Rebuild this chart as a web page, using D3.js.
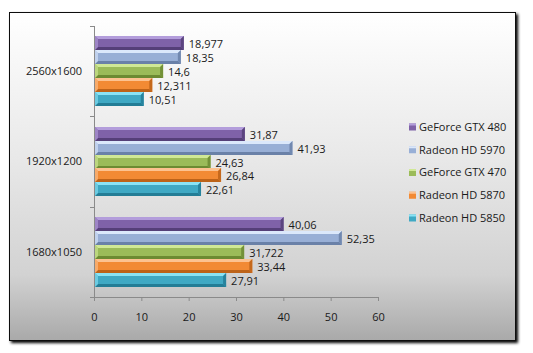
<!DOCTYPE html>
<html>
<head>
<meta charset="utf-8">
<script src="https://cdn.jsdelivr.net/npm/d3@7"></script>
<style>
  html, body { margin: 0; padding: 0; background: #ffffff; }
  svg { display: block; }
  text { font-family: "Open Sans", "DejaVu Sans", sans-serif; font-size: 11px; fill: #1a1a1a; }
</style>
</head>
<body>
<div id="chart"></div>
<script>
// categories, top to bottom
let resolutions = ['2560x1600', '1920x1200', '1680x1050'];
// series, top to bottom inside each group
let cards = ['GeForce GTX 480', 'Radeon HD 5970', 'GeForce GTX 470', 'Radeon HD 5870', 'Radeon HD 5850'];
let gtx480 = [18.977, 31.87, 40.06];
let hd5970 = [18.35, 41.93, 52.35];
let gtx470 = [14.6, 24.63, 31.722];
let hd5870 = [12.311, 26.84, 33.44];
let hd5850 = [10.51, 22.61, 27.91];
let xTicks = [0, 10, 20, 30, 40, 50, 60];

let seriesValues = [gtx480, hd5970, gtx470, hd5870, hd5850];
// base / light / dark per series
let palette = [
    {base: '#7f62a8', light: '#b39ddb', dark: '#553f78'},
    {base: '#98afd6', light: '#dbe8fb', dark: '#6a81a8'},
    {base: '#9bbb59', light: '#d0e896', dark: '#6c8a32'},
    {base: '#f28a34', light: '#fcc290', dark: '#bd6319'},
    {base: '#3fa9c4', light: '#8ae3f5', dark: '#237d96'}
];

let W = 533, H = 353;
let svg = d3.select('#chart').append('svg').attr('width', W).attr('height', H);
let defs = svg.append('defs');

//背景渐变
let bg = defs.append('linearGradient').attr('id', 'bg').attr('x1', 0).attr('y1', 0).attr('x2', 0).attr('y2', 1);
bg.append('stop').attr('offset', '0%').attr('stop-color', '#ffffff');
bg.append('stop').attr('offset', '45%').attr('stop-color', '#e8e8e8');
bg.append('stop').attr('offset', '80%').attr('stop-color', '#d2d2d2');
bg.append('stop').attr('offset', '100%').attr('stop-color', '#a9a9a9');

let sh = defs.append('filter').attr('id', 'shadow').attr('x', '-5%').attr('y', '-5%').attr('width', '115%').attr('height', '115%');
sh.append('feGaussianBlur').attr('in', 'SourceAlpha').attr('stdDeviation', 1.5);
sh.append('feOffset').attr('dx', 2).attr('dy', 2).attr('result', 'b');
let mg = sh.append('feMerge');
mg.append('feMergeNode').attr('in', 'b');
mg.append('feMergeNode').attr('in', 'SourceGraphic');

//外框
svg.append('rect')
    .attr('x', 9.5).attr('y', 12.5).attr('width', 506).attr('height', 328)
    .attr('fill', 'url(#bg)').attr('stroke', '#111').attr('stroke-width', 1)
    .attr('filter', 'url(#shadow)');

let pLeft = 94, pRight = 378, pTop = 26, pBottom = 297;

let x = d3.scaleLinear().domain([0, 60]).range([pLeft, pRight]);
let y0 = d3.scaleBand().domain(resolutions).range([pTop, pBottom]).paddingInner(0).paddingOuter(0);
let y1 = d3.scaleBand().domain(cards).range([0, y0.bandwidth()]).paddingOuter(0.74).paddingInner(0);

let g = svg.append('g');

//x轴
let xAxis = d3.axisBottom(x).tickValues(xTicks).tickSize(4).tickPadding(12).tickFormat(d3.format('d'));
let gx = g.append('g').attr('transform', 'translate(0,' + pBottom + ')').call(xAxis);
gx.select('.domain').attr('stroke', '#8a8a8a');
gx.selectAll('.tick line').attr('stroke', '#8a8a8a');
gx.selectAll('.tick text').style('font-size', '11px').attr('fill', '#1a1a1a');

//y轴
let gy = g.append('g');
gy.append('line').attr('x1', pLeft + 0.5).attr('x2', pLeft + 0.5).attr('y1', pTop).attr('y2', pBottom).attr('stroke', '#8a8a8a');
[pTop, pTop + y0.bandwidth(), pTop + 2 * y0.bandwidth(), pBottom].forEach(function (t) {
    gy.append('line').attr('x1', pLeft - 4).attr('x2', pLeft).attr('y1', Math.round(t) + 0.5).attr('y2', Math.round(t) + 0.5).attr('stroke', '#8a8a8a');
});
resolutions.forEach(function (r) {
    gy.append('text')
        .attr('x', 82).attr('y', y0(r) + y0.bandwidth() / 2)
        .attr('text-anchor', 'end').attr('dy', '0.35em')
        .text(r);
});

//画条形（带斜面效果）
let b = 3;
let fmt = function (v) { return String(v).replace('.', ','); };
resolutions.forEach(function (r, ri) {
    cards.forEach(function (c, si) {
        let v = seriesValues[si][ri];
        let col = palette[si];
        let x0 = x(0) + 1, x1 = x(v);
        let yt = Math.round(y0(r) + y1(c)), h = Math.round(y1.bandwidth()), yb = yt + h;
        let bar = g.append('g');
        bar.append('rect').attr('x', x0).attr('y', yt).attr('width', x1 - x0).attr('height', h).attr('fill', col.base);
        bar.append('polygon')
            .attr('points', [[x0, yt], [x1, yt], [x1 - b, yt + b], [x0 + b, yt + b]].join(' '))
            .attr('fill', col.light);
        bar.append('polygon')
            .attr('points', [[x0, yb], [x1, yb], [x1 - b, yb - b], [x0 + b, yb - b]].join(' '))
            .attr('fill', col.dark);
        bar.append('polygon')
            .attr('points', [[x1, yt], [x1, yb], [x1 - b, yb - b], [x1 - b, yt + b]].join(' '))
            .attr('fill', col.dark).attr('opacity', 0.85);
        bar.append('polygon')
            .attr('points', [[x0, yt], [x0, yb], [x0 + b, yb - b], [x0 + b, yt + b]].join(' '))
            .attr('fill', col.light).attr('opacity', 0.6);
        g.append('text')
            .attr('x', x1 + 5).attr('y', yt + h / 2 + 1)
            .attr('dy', '0.35em')
            .text(fmt(v));
    });
});

//图例
let legend = svg.append('g').attr('transform', 'translate(409,127)');
cards.forEach(function (c, i) {
    let col = palette[i];
    let item = legend.append('g').attr('transform', 'translate(0,' + (i * 22.75) + ')');
    item.append('rect').attr('x', 0).attr('y', -3.5).attr('width', 7).attr('height', 7).attr('fill', col.base);
    item.append('rect').attr('x', 0).attr('y', -3.5).attr('width', 7).attr('height', 2).attr('fill', col.light);
    item.append('text').attr('x', 10).attr('y', 0).attr('dy', '0.35em').text(c);
});
</script>
</body>
</html>
